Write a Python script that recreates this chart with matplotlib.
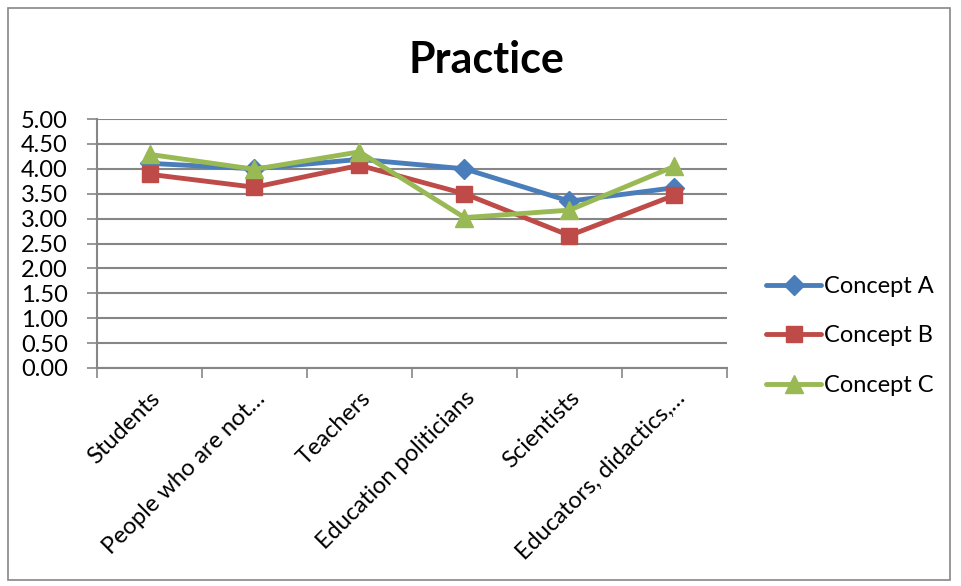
import numpy as np
import matplotlib.pyplot as plt
from matplotlib.patches import Rectangle

plt.rcParams['font.family'] = ['Lato', 'DejaVu Sans']

categories = ['Students', 'People who are not…', 'Teachers',
              'Education politicians', 'Scientists', 'Educators, didactics,…']
concept_a = [4.11, 4.00, 4.19, 4.00, 3.35, 3.62]
concept_b = [3.89, 3.63, 4.07, 3.50, 2.66, 3.47]
concept_c = [4.29, 3.99, 4.34, 3.02, 3.17, 4.05]
y_ticks = np.arange(0, 5.01, 0.5)

grid_col = '#868686'
fig = plt.figure(figsize=(9.62, 5.86), dpi=100)
fig.patches.append(Rectangle((8 / 962, 6 / 586), 942 / 962, 572 / 586,
                             transform=fig.transFigure, fill=False,
                             edgecolor=grid_col, linewidth=1.2))

ax = fig.add_axes([97 / 962, 1 - 368 / 586, 630 / 962, 249 / 586])
x = np.arange(len(categories))

series = [('Concept A', concept_a, '#4A7EBB', 'D', 10),
          ('Concept B', concept_b, '#BE4B48', 's', 11.5),
          ('Concept C', concept_c, '#98B954', '^', 12.5)]
for name, vals, col, mk, ms in series:
    ax.plot(x, vals, color=col, linewidth=3.5, marker=mk, markersize=ms,
            label=name, solid_capstyle='round')

ax.set_xlim(-0.5, len(categories) - 0.5)
ax.set_ylim(0, 5)
ax.set_yticks(y_ticks)
ax.set_yticklabels([f'{v:.2f}' for v in y_ticks], fontsize=17)
ax.yaxis.grid(True, color=grid_col, linewidth=1.5)
ax.set_axisbelow(True)

ax.set_xticks(x)
ax.set_xticklabels(categories, rotation=45, ha='right', rotation_mode='anchor',
                   fontsize=17)
ax.set_xticks(np.arange(-0.5, len(categories), 1), minor=True)
ax.tick_params(axis='x', which='major', length=0, pad=14)
ax.tick_params(axis='x', which='minor', length=7, color=grid_col, width=1.2)
ax.tick_params(axis='y', length=7, color=grid_col, width=1.2, pad=14)

for side in ['top', 'right']:
    ax.spines[side].set_visible(False)
for side in ['left', 'bottom']:
    ax.spines[side].set_color(grid_col)
    ax.spines[side].set_linewidth(1.5)

fig.text(486 / 962, 1 - 60 / 586, 'Practice', ha='center', va='center',
         fontsize=31, fontweight='bold')

fig.legend(loc='center left', bbox_to_anchor=(757 / 962, 1 - 336 / 586),
           frameon=False, fontsize=17, handlelength=2.3, labelspacing=1.2,
           handletextpad=0.15, borderaxespad=0)

fig.savefig('out.png', dpi=100)
